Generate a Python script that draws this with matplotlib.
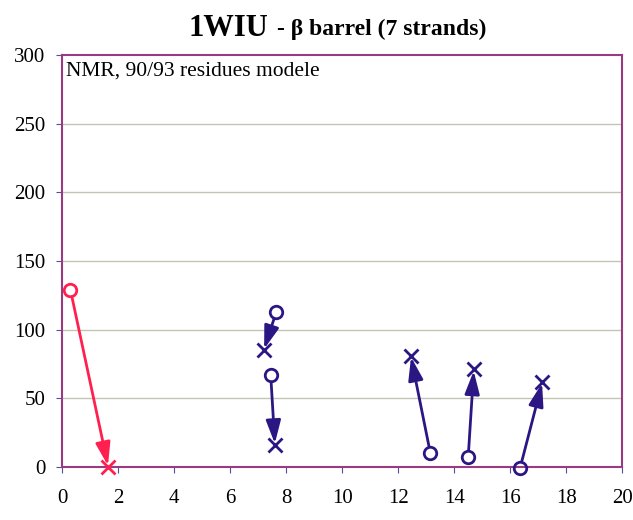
import matplotlib.pyplot as plt

plt.rcParams['font.family'] = ['Liberation Serif', 'DejaVu Serif']

# start (circle) and end (cross) positions of each arrow
red_start_x = [0.3]
red_start_y = [129]
red_end_x = [1.65]
red_end_y = [0]

blue_start_x = [7.65, 7.45, 13.15, 14.5, 16.35]
blue_start_y = [113, 67, 10, 7, -1]
blue_end_x = [7.2, 7.6, 12.45, 14.7, 17.15]
blue_end_y = [85, 16, 81, 71, 62]

xticks = list(range(0, 21, 2))
yticks = list(range(0, 301, 50))

red = '#ff2050'
blue = '#2c1684'

fig = plt.figure(figsize=(6.33, 5.2), dpi=100)
ax = fig.add_axes([0.098, 0.102, 0.885, 0.792])


def draw_arrows(xs, ys, xe, ye, color):
    for x0, y0, x1, y1 in zip(xs, ys, xe, ye):
        ax.annotate('', xy=(x1, y1), xytext=(x0, y0),
                    arrowprops=dict(arrowstyle='-|>,head_length=1.0,head_width=0.32',
                                    mutation_scale=14, color=color, lw=2,
                                    shrinkA=5, shrinkB=1),
                    annotation_clip=False)
    ax.plot(xs, ys, 'o', ms=9, mfc='none', mec=color, mew=2, clip_on=False, zorder=5)
    ax.plot(xe, ye, 'x', ms=10, color=color, mew=2, clip_on=False, zorder=5)


draw_arrows(red_start_x, red_start_y, red_end_x, red_end_y, red)
draw_arrows(blue_start_x, blue_start_y, blue_end_x, blue_end_y, blue)

ax.set_xlim(0, 20)
ax.set_ylim(0, 300)
ax.set_xticks(xticks)
ax.set_yticks(yticks)
ax.tick_params(labelsize=15, direction='out', length=4, color='#5050a0')
ax.tick_params(axis='x', pad=12)
ax.tick_params(axis='y', pad=8)
for y in yticks[1:-1]:
    ax.axhline(y, color='#c4c4b4', lw=1, zorder=0)
for s in ax.spines.values():
    s.set_color('#9a3a80')
    s.set_linewidth(1.5)

ax.text(0.007, 0.985, 'NMR, 90/93 residues modele', transform=ax.transAxes,
        fontsize=15.5, va='top', ha='left')

fig.text(0.297, 0.945, '1WIU', fontsize=22, fontweight='bold', va='center', ha='left')
fig.text(0.437, 0.943, '- β barrel (7 strands)', fontsize=17, fontweight='bold',
         va='center', ha='left')

fig.savefig('out.png', dpi=100)
